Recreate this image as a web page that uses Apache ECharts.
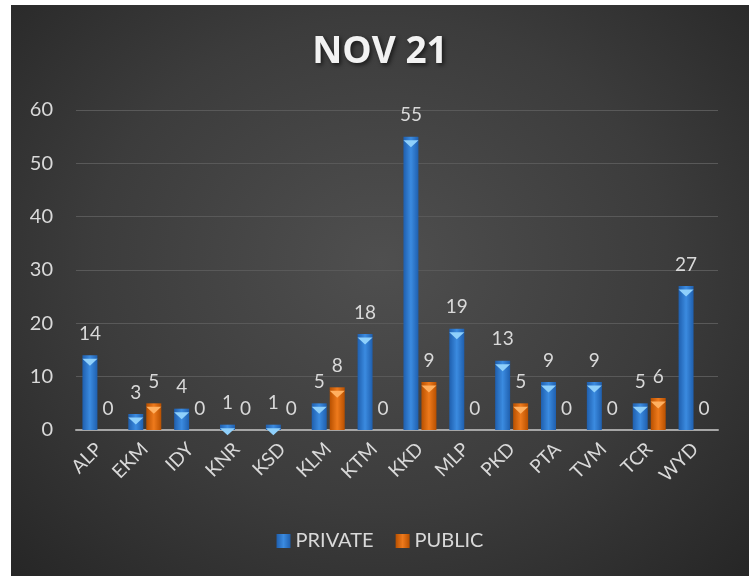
<!DOCTYPE html>
<html>
<head>
<meta charset="utf-8">
<script src="https://cdn.jsdelivr.net/npm/echarts@6/dist/echarts.min.js"></script>
<style>
  html, body { margin: 0; padding: 0; background: #ffffff; }
  #chart {
    position: absolute;
    left: 11px;
    top: 5px;
    width: 738px;
    height: 571px;
    background: radial-gradient(ellipse at 50% 45%, #4f4f4f 0%, #3c3c3c 55%, #262626 100%);
  }
</style>
</head>
<body>
<div id="chart"></div>
<script>
const districts = ['ALP', 'EKM', 'IDY', 'KNR', 'KSD', 'KLM', 'KTM', 'KKD', 'MLP', 'PKD', 'PTA', 'TVM', 'TCR', 'WYD']
const privateCounts = [14, 3, 4, 1, 1, 5, 18, 55, 19, 13, 9, 9, 5, 27]
const publicCounts = [0, 5, 0, 0, 0, 8, 0, 9, 0, 5, 0, 0, 6, 0]
const yTicks = [0, 10, 20, 30, 40, 50, 60]

const textColor = '#d9d9d9'
const font = 'Lato, "Open Sans", sans-serif'

// bar body: darker edges, lighter middle
function barFill(edge, mid) {
  return new echarts.graphic.LinearGradient(0, 0, 1, 0, [
    { offset: 0, color: edge },
    { offset: 0.5, color: mid },
    { offset: 1, color: edge }
  ])
}
const blueFill = barFill('#1f5fae', '#3b8be0')
const orangeFill = barFill('#b85000', '#ee7a1c')

const barBase = {
  type: 'bar',
  barWidth: 15,
  barGap: '20%',
  label: {
    show: true,
    position: 'top',
    distance: 12,
    color: textColor,
    fontSize: 19,
    fontFamily: font
  }
}

// small bevel triangle at the top of each bar
function bevel(values, color) {
  return {
    type: 'pictorialBar',
    data: values.map(v => (v > 0 ? v : '-')),
    symbol: 'path://M0,0 L10,0 L5,6 Z',
    symbolSize: [15, 7],
    symbolPosition: 'end',
    symbolOffset: [0, '50%'],
    barWidth: 15,
    barGap: '20%',
    itemStyle: { color: color },
    silent: true,
    z: 3
  }
}

const chart = echarts.init(document.getElementById('chart'))
chart.setOption({
  backgroundColor: 'transparent',
  animation: false,
  title: {
    text: 'NOV 21',
    left: 'center',
    top: 24,
    textStyle: {
      color: '#f2f2f2',
      fontSize: 37,
      fontWeight: 'bold',
      fontFamily: '"Open Sans", Lato, sans-serif',
      textShadowColor: 'rgba(0,0,0,0.6)',
      textShadowBlur: 4,
      textShadowOffsetX: 2,
      textShadowOffsetY: 2
    }
  },
  legend: {
    data: ['PRIVATE', 'PUBLIC'],
    bottom: 20,
    left: 'center',
    icon: 'rect',
    itemWidth: 14,
    itemHeight: 14,
    itemGap: 22,
    textStyle: { color: textColor, fontSize: 20, fontFamily: font }
  },
  grid: { left: 65, right: 31, top: 105, bottom: 146 },
  xAxis: {
    type: 'category',
    data: districts,
    axisLine: { lineStyle: { color: '#a6a6a6', width: 2 } },
    axisTick: { show: false },
    axisLabel: {
      rotate: 45,
      margin: 16,
      color: textColor,
      fontSize: 19,
      fontFamily: font
    }
  },
  yAxis: {
    type: 'value',
    min: yTicks[0],
    max: yTicks[yTicks.length - 1],
    interval: 10,
    axisLine: { show: false },
    axisTick: { show: false },
    splitLine: { lineStyle: { color: '#595959', width: 1 } },
    axisLabel: {
      margin: 23,
      color: textColor,
      fontSize: 20,
      fontFamily: font
    }
  },
  series: [
    Object.assign({}, barBase, { name: 'PRIVATE', data: privateCounts, itemStyle: { color: blueFill } }),
    Object.assign({}, barBase, { name: 'PUBLIC', data: publicCounts, itemStyle: { color: orangeFill } }),
    bevel(privateCounts, '#8fd0fb'),
    bevel(publicCounts, '#ffb060')
  ]
})
</script>
</body>
</html>
